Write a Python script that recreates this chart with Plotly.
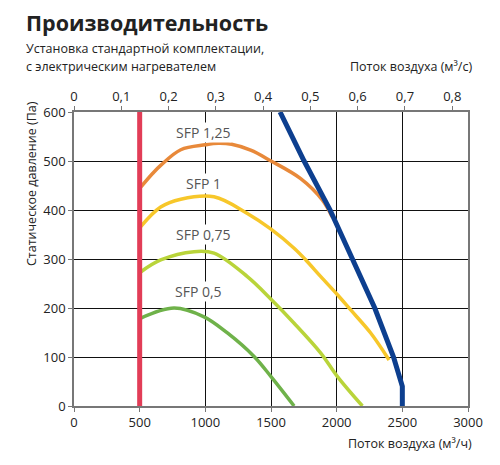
import plotly.graph_objects as go

# Данные (м³/ч, Па)
sfp_125_x = [500, 600, 660, 813, 1000, 1100, 1200, 1345, 1500, 1726, 1892, 1965]
sfp_125_y = [444, 475, 491, 523, 533, 536, 534, 522, 500, 464, 420, 386]

sfp_1_x = [505, 660, 813, 1066, 1320, 1500, 1676, 1765, 1879, 2006, 2107, 2259, 2399]
sfp_1_y = [365, 406, 422, 427, 393, 361, 322, 298, 264, 227, 196, 149, 94]

sfp_075_x = [505, 660, 914, 1066, 1320, 1500, 1676, 1879, 2006, 2196]
sfp_075_y = [273, 298, 315, 312, 264, 218, 169, 108, 60, 0]

sfp_05_x = [505, 762, 990, 1168, 1371, 1500, 1676]
sfp_05_y = [179, 200, 182, 149, 101, 60, 0]

max_x = [1569, 1752, 1950, 2120, 2290, 2433, 2500, 2500]
max_y = [600, 500, 400, 300, 200, 100, 40, 0]

min_x = [500, 500]
min_y = [0, 600]

x_ticks = [0, 500, 1000, 1500, 2000, 2500, 3000]
y_ticks = [0, 100, 200, 300, 400, 500, 600]
top_ticks = [0, 0.1, 0.2, 0.3, 0.4, 0.5, 0.6, 0.7, 0.8]
top_labels = ["0", "0,1", "0,2", "0,3", "0,4", "0,5", "0,6", "0,7", "0,8"]

labels = ["SFP 1,25", "SFP 1", "SFP 0,75", "SFP 0,5"]
label_x = [985, 985, 985, 950]
label_y = [558, 454, 350, 233]

font = "Open Sans"
OFF = 8  # отступ body страницы
W, H = 500 - OFF, 465 - OFF
ML, MR, MT, MB = 74 - OFF, 32, 112 - OFF, 59

fig = go.Figure()

# кривые SFP
for xs, ys, col in [(sfp_125_x, sfp_125_y, "#e8893a"),
                    (sfp_1_x, sfp_1_y, "#f7c72a"),
                    (sfp_075_x, sfp_075_y, "#b9d43a"),
                    (sfp_05_x, sfp_05_y, "#6fb24a")]:
    fig.add_trace(go.Scatter(x=xs, y=ys, mode="lines", line=dict(color=col, width=3.5, shape="spline", smoothing=1.0), hoverinfo="skip"))

fig.add_trace(go.Scatter(x=max_x, y=max_y, mode="lines", line=dict(color="#0d3f8f", width=5), hoverinfo="skip"))
fig.add_trace(go.Scatter(x=min_x, y=min_y, mode="lines", line=dict(color="#e23d57", width=5), hoverinfo="skip"))

# невидимая линия для верхней оси
fig.add_trace(go.Scatter(x=[0, 0.8], y=[0, 0], xaxis="x2", mode="lines", line=dict(width=0), opacity=0, hoverinfo="skip"))

for t, lx, ly in zip(labels, label_x, label_y):
    fig.add_annotation(x=lx, y=ly, text=t, showarrow=False, bgcolor="white", borderpad=0,
                       font=dict(family=font, size=14, color="#555555"))

axis_common = dict(showline=True, linecolor="#777777", linewidth=1.5, ticks="outside", ticklen=4,
                   tickcolor="#777777", zeroline=False, automargin=False,
                   tickfont=dict(family=font, size=13, color="#222222"))

fig.update_layout(
    width=W, height=H,
    margin=dict(l=ML, r=MR, t=MT, b=MB),
    paper_bgcolor="white", plot_bgcolor="white",
    showlegend=False,
    xaxis=dict(range=[0, 3000], tickvals=x_ticks, showgrid=True, gridcolor="#111111", gridwidth=1,
               mirror=True, **axis_common),
    yaxis=dict(range=[0, 600], tickvals=y_ticks, showgrid=True, gridcolor="#111111", gridwidth=1,
               mirror=True, **axis_common),
    xaxis2=dict(range=[0, 3000 / 3600], overlaying="x", side="top", tickvals=top_ticks, ticktext=top_labels,
                showgrid=False, **axis_common),
)


# заголовки в пикселях окна -> доли paper
def px_x(p):
    return (p - OFF - ML) / (W - ML - MR)


def px_y(p):
    return (H - MB - (p - OFF)) / (H - MT - MB)


def text_at(px, py, text, anchor, size, **kw):
    fig.add_annotation(x=px_x(px), y=px_y(py), xref="paper", yref="paper", text=text, showarrow=False,
                       xanchor=anchor, yanchor="middle", font=dict(family=font, size=size, color="#222222"), **kw)


text_at(24, 22, "<b>Производительность</b>", "left", 21.5)
text_at(24, 48, "Установка стандартной комплектации,", "left", 12.5)
text_at(24, 67, "с электрическим нагревателем", "left", 12.5)
text_at(474, 67, "Поток воздуха (м³/с)", "right", 12.5)
text_at(474, 443, "Поток воздуха (м³/ч)", "right", 12.5)
text_at(31, 184, "Статическое давление (Па)", "center", 12.5, textangle=-90)

fig.write_html("out.html")
